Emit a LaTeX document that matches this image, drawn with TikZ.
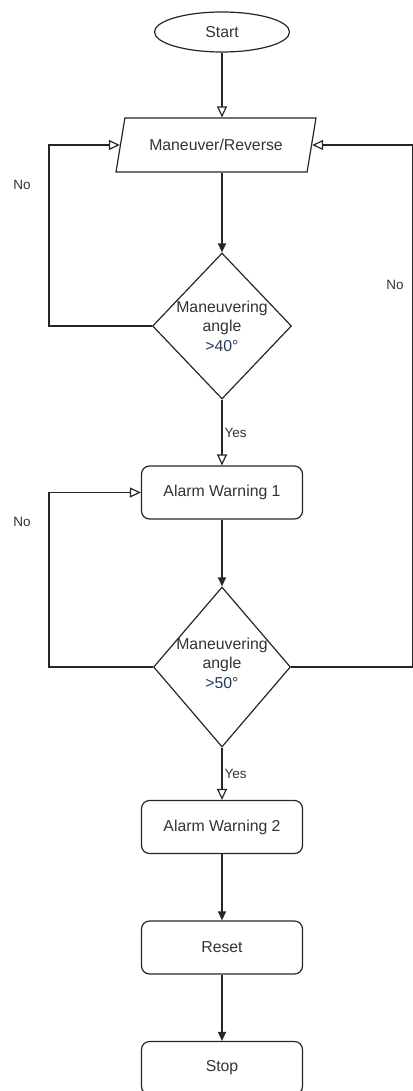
\documentclass[tikz,border=0pt]{standalone}
\usepackage{fontspec}
\setmainfont{Liberation Sans}
\usetikzlibrary{shapes.geometric,arrows.meta}
\definecolor{txtgray}{HTML}{333333}
\definecolor{angblue}{HTML}{23395B}
\begin{document}
\begin{tikzpicture}[x=1pt,y=-1pt]
\tikzstyle{every node}+=[font=\fontsize{15.8}{19.5}\selectfont, text=txtgray]
\tikzstyle{line}=[draw=black!85, line width=1.2pt]
\tikzstyle{proc}=[line, rounded corners=8pt, minimum width=161pt, minimum height=53pt]
\tikzstyle{dec}=[line, diamond, minimum width=139pt, inner sep=0pt]
\tikzstyle{oarrow}=[line, -{Triangle[open,length=11pt,width=10pt]}]
\tikzstyle{farrow}=[line, -{Triangle[length=9pt,width=8pt]}]
\tikzstyle{lbl}=[font=\fontsize{13.5}{16}\selectfont]
\useasboundingbox (0,0) rectangle (412,1091);
\node [line, ellipse, minimum width=135pt, minimum height=40pt, inner sep=0pt] (start) at (222,32) {Start};
\node [line, trapezium, trapezium left angle=64, trapezium right angle=116, trapezium stretches body, minimum width=200pt, minimum height=54pt] (io) at (216,145) {Maneuver/Reverse};
\node [dec, minimum height=146pt, label={[align=center]center:Maneuvering\\angle\\{\color{angblue}>40°}}] (d1) at (222,326) {};
\node [proc] (a1) at (222,492.5) {Alarm Warning 1};
\node [dec, minimum width=137pt, minimum height=160pt, label={[align=center, yshift=4pt]center:Maneuvering\\angle\\{\color{angblue}>50°}}] (d2) at (222,667) {};
\node [proc] (a2) at (222,827) {Alarm Warning 2};
\node [proc] (reset) at (222,947.5) {Reset};
\node [proc] (stop) at (222,1068) {Stop};
\coordinate (lft) at (49,0);
\coordinate (rgt) at (412.2,0);
\node [lbl] (no1) at (22,185) {No};
\node [lbl] (no2) at (395,285) {No};
\node [lbl] (no3) at (22,522) {No};
\draw [oarrow] (start) -- (start |- io.top side);
\draw [farrow] (io.bottom side -| d1) -- (d1.north);
\draw [oarrow] (d1.west) -- (d1.west -| lft) |- (io.left side);
\draw [oarrow] (d1.south) -- node [midway, right, lbl, inner sep=2pt] {Yes} (a1.north);
\draw [farrow] (a1) -- (d2.north);
\draw [oarrow] (d2.west) -- (d2.west -| lft) |- (a1.west);
\draw [oarrow] (d2.east) -- (d2.east -| rgt) |- (io.right side);
\draw [oarrow] (d2.south) -- node [midway, right, lbl, inner sep=2pt] {Yes} (a2.north);
\draw [farrow] (a2) -- (reset);
\draw [farrow] (reset) -- (stop);
\end{tikzpicture}
\end{document}
